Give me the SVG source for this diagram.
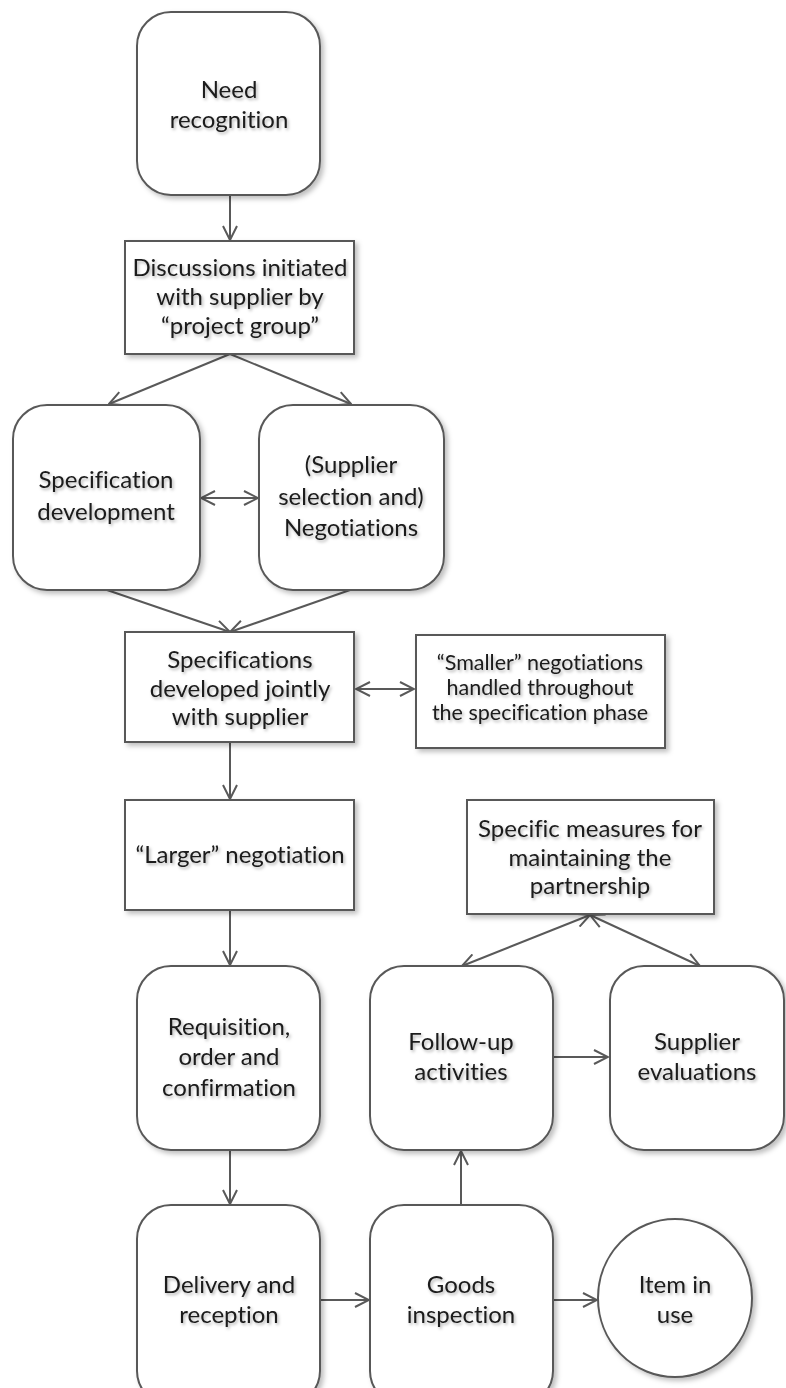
<svg xmlns="http://www.w3.org/2000/svg" width="786" height="1388" viewBox="0 0 786 1388">
<style>
.n{fill:#fff;stroke:#595959;stroke-width:2}
.t{font-family:Lato,"Open Sans",sans-serif;font-size:24px;fill:#1a1a1a;text-anchor:middle;font-variant-ligatures:none;filter:url(#ts)}
.s{font-size:21.5px}
.c{fill:none;stroke:#595959;stroke-width:2}
</style>
<defs>
<filter id="sh" x="-10%" y="-10%" width="125%" height="125%">
<feDropShadow dx="3" dy="3" stdDeviation="2.5" flood-color="#000" flood-opacity="0.25"/>
</filter>
<filter id="ts" x="-10%" y="-20%" width="120%" height="150%">
<feDropShadow dx="1.5" dy="2" stdDeviation="1.5" flood-color="#000" flood-opacity="0.3"/>
</filter>
<marker id="a" viewBox="0 0 16 16" refX="15" refY="8" markerWidth="16" markerHeight="16" markerUnits="userSpaceOnUse" orient="auto-start-reverse">
<path d="M1,1 L15,8 L1,15" fill="none" stroke="#595959" stroke-width="2"/>
</marker>
</defs>
<g id="connectors">
<line class="c" x1="230" y1="195" x2="230" y2="240" marker-end="url(#a)"/>
<line class="c" x1="230" y1="354" x2="109" y2="404" marker-end="url(#a)"/>
<line class="c" x1="230" y1="354" x2="351" y2="404" marker-end="url(#a)"/>
<line class="c" x1="201" y1="498" x2="258" y2="498" marker-start="url(#a)" marker-end="url(#a)"/>
<line class="c" x1="107" y1="590" x2="230" y2="632" marker-end="url(#a)"/>
<line class="c" x1="350" y1="590" x2="230" y2="632" marker-end="url(#a)"/>
<line class="c" x1="356" y1="689" x2="414" y2="689" marker-start="url(#a)" marker-end="url(#a)"/>
<line class="c" x1="230" y1="742" x2="230" y2="799" marker-end="url(#a)"/>
<line class="c" x1="230" y1="910" x2="230" y2="965" marker-end="url(#a)"/>
<line class="c" x1="230" y1="1150" x2="230" y2="1204" marker-end="url(#a)"/>
<line class="c" x1="321" y1="1300" x2="369" y2="1300" marker-end="url(#a)"/>
<line class="c" x1="553" y1="1300" x2="597" y2="1300" marker-end="url(#a)"/>
<line class="c" x1="461" y1="1205" x2="461" y2="1151" marker-end="url(#a)"/>
<line class="c" x1="553" y1="1057" x2="608" y2="1057" marker-end="url(#a)"/>
<line class="c" x1="590" y1="915" x2="462" y2="966" marker-start="url(#a)" marker-end="url(#a)"/>
<line class="c" x1="590" y1="915" x2="700" y2="966" marker-start="url(#a)" marker-end="url(#a)"/>
</g>
<g id="need">
<rect class="n" filter="url(#sh)" x="137" y="12" width="183" height="183" rx="34"/>
<text class="t" x="229" y="98">Need</text>
<text class="t" x="229" y="128">recognition</text>
</g>
<g id="discussions">
<rect class="n" filter="url(#sh)" x="125" y="241" width="229" height="113"/>
<text class="t" x="240" y="276">Discussions initiated</text>
<text class="t" x="240" y="305">with supplier by</text>
<text class="t" x="240" y="334">“project group”</text>
</g>
<g id="specdev">
<rect class="n" filter="url(#sh)" x="13" y="405" width="187" height="185" rx="34"/>
<text class="t" x="106" y="488">Specification</text>
<text class="t" x="106" y="520">development</text>
</g>
<g id="negotiations">
<rect class="n" filter="url(#sh)" x="259" y="405" width="185" height="185" rx="34"/>
<text class="t" x="351" y="473">(Supplier</text>
<text class="t" x="351" y="505">selection and)</text>
<text class="t" x="351" y="536">Negotiations</text>
</g>
<g id="specjoint">
<rect class="n" filter="url(#sh)" x="125" y="632" width="229" height="110"/>
<text class="t" x="240" y="668">Specifications</text>
<text class="t" x="240" y="697">developed jointly</text>
<text class="t" x="240" y="725">with supplier</text>
</g>
<g id="smaller">
<rect class="n" filter="url(#sh)" x="416" y="635" width="249" height="113"/>
<text class="t s" x="540" y="670">“Smaller” negotiations</text>
<text class="t s" x="540" y="695">handled throughout</text>
<text class="t s" x="540" y="720">the specification phase</text>
</g>
<g id="larger">
<rect class="n" filter="url(#sh)" x="125" y="800" width="229" height="110"/>
<text class="t" x="240" y="863">“Larger” negotiation</text>
</g>
<g id="measures">
<rect class="n" filter="url(#sh)" x="467" y="800" width="247" height="114"/>
<text class="t" x="590" y="837">Specific measures for</text>
<text class="t" x="590" y="866">maintaining the</text>
<text class="t" x="590" y="894">partnership</text>
</g>
<g id="requisition">
<rect class="n" filter="url(#sh)" x="137" y="966" width="183" height="184" rx="34"/>
<text class="t" x="229" y="1035">Requisition,</text>
<text class="t" x="229" y="1065">order and</text>
<text class="t" x="229" y="1096">confirmation</text>
</g>
<g id="followup">
<rect class="n" filter="url(#sh)" x="370" y="966" width="183" height="184" rx="34"/>
<text class="t" x="461" y="1050">Follow-up</text>
<text class="t" x="461" y="1080">activities</text>
</g>
<g id="evaluations">
<rect class="n" filter="url(#sh)" x="610" y="966" width="174" height="184" rx="34"/>
<text class="t" x="697" y="1050">Supplier</text>
<text class="t" x="697" y="1080">evaluations</text>
</g>
<g id="delivery">
<rect class="n" filter="url(#sh)" x="137" y="1205" width="183" height="200" rx="34"/>
<text class="t" x="229" y="1293">Delivery and</text>
<text class="t" x="229" y="1323">reception</text>
</g>
<g id="inspection">
<rect class="n" filter="url(#sh)" x="370" y="1205" width="183" height="200" rx="34"/>
<text class="t" x="461" y="1293">Goods</text>
<text class="t" x="461" y="1323">inspection</text>
</g>
<g id="itemuse">
<ellipse class="n" filter="url(#sh)" cx="675" cy="1298" rx="77" ry="79"/>
<text class="t" x="675" y="1293">Item in</text>
<text class="t" x="675" y="1323">use</text>
</g>
</svg>
